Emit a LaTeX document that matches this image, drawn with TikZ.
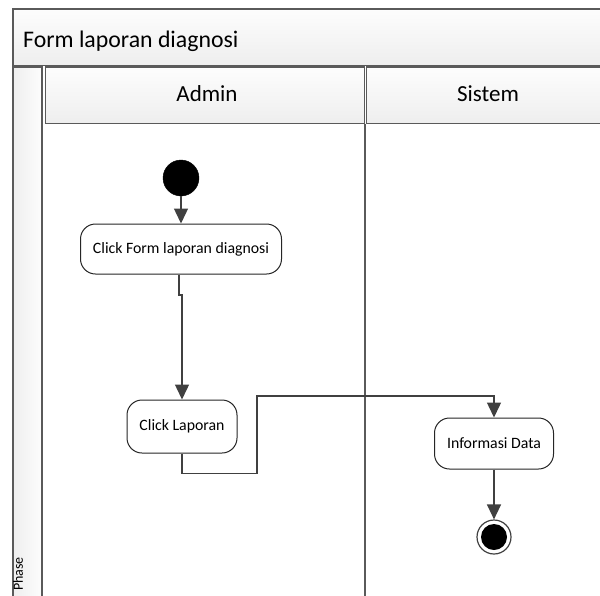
\documentclass[tikz,border=0pt]{standalone}
\usepackage{fontspec}
\setmainfont{Carlito}
\usetikzlibrary{arrows.meta}
\definecolor{lanegray}{HTML}{5A5A5A}
\definecolor{flowgray}{HTML}{404040}
\definecolor{headtop}{HTML}{FDFDFD}
\definecolor{headbot}{HTML}{EEEEEE}

\tikzset{
  lane/.style={draw=lanegray, line width=1.2pt, top color=headtop, bottom color=headbot},
  act/.style={draw=black!85, line width=1pt, rounded corners=15pt, fill=white, inner sep=0pt,
    font=\fontsize{15.8}{18}\selectfont},
  flow/.style={draw=flowgray, line width=1.4pt, -{Triangle[width=14pt,length=15pt]}, >=stealth},
}

\begin{document}
\begin{tikzpicture}[x=1pt, y=-1pt]
\useasboundingbox (0,0) rectangle (600,595);
\draw[lane] (13,9) rectangle (612,65.5);
\draw[draw=lanegray, line width=1.2pt, left color=headbot, right color=headtop] (13,67) rectangle (42,612);
\draw[lane] (45.5,67) rectangle (364.5,123.5);
\draw[lane] (366.5,67) rectangle (612,123.5);
\draw[lanegray, line width=1.2pt] (365,123.5) --++(0,490);

\node (title) [anchor=base west, inner sep=0, font=\fontsize{23.8}{26}\selectfont] at (23,47) {Form laporan diagnosi};
\node (admin) [anchor=base, inner sep=0, font=\fontsize{23}{26}\selectfont] at (207,101.7) {Admin};
\node (sistem) [anchor=base, inner sep=0, font=\fontsize{23}{26}\selectfont] at (488,101.7) {Sistem};
\node (phase) [anchor=base west, rotate=90, inner sep=0, font=\fontsize{14}{16}\selectfont] at (23,591) {Phase};

\node (start) [circle, fill=black, draw=black, minimum size=36pt, inner sep=0] at (181,178) {};
\node (form) [act, minimum width=201pt, minimum height=50pt] at (181,249) {Click Form laporan diagnosi};
\node (lap) [act, minimum width=110pt, minimum height=53pt] at (182,426.5) {Click Laporan};
\node (info) [act, minimum width=119pt, minimum height=51pt] at (494,443.5) {Informasi Data};
\node (end) [circle, draw=flowgray, fill=white, line width=1.2pt, minimum size=34pt, inner sep=0] at (494,537) {};
\node (endcore) [circle, fill=black, minimum size=26pt, inner sep=0] at (end) {};

\coordinate (jog) at (179,295);
\coordinate (bend) at (257,396);
\draw[flow] (start.south) -- (form.north);
\draw[flow] (form.south -| jog) -- (jog) -- (jog -| lap.north) -- (lap.north);
\draw[flow] (lap.south) -- ++(0,20) -| (bend) -| (info.north);
\draw[flow] (info.south) -- (end.north);
\end{tikzpicture}
\end{document}
